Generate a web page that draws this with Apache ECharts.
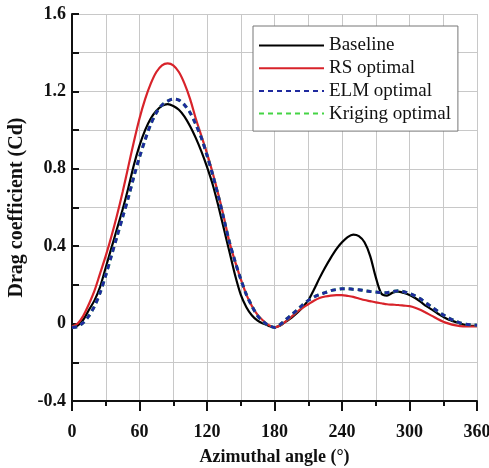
<!DOCTYPE html>
<html>
<head>
<meta charset="utf-8">
<script src="https://cdn.jsdelivr.net/npm/echarts@6/dist/echarts.min.js"></script>
<style>
  html, body { margin: 0; padding: 0; background: #fff; }
  #chart { width: 489px; height: 468px; }
</style>
</head>
<body>
<div id="chart"></div>
<script>
// azimuthal angle (deg), every 5 degrees from 0 to 360
const angles = [
  0, 5, 10, 15, 20, 25, 30, 35, 40, 45, 50, 55, 60, 65, 70, 75, 80, 85, 90,
  95, 100, 105, 110, 115, 120, 125, 130, 135, 140, 145, 150, 155, 160, 165, 170, 175, 180,
  185, 190, 195, 200, 205, 210, 215, 220, 225, 230, 235, 240, 245, 250, 255, 260, 265, 270,
  275, 280, 285, 290, 295, 300, 305, 310, 315, 320, 325, 330, 335, 340, 345, 350, 355, 360];

// drag coefficient
const baseline = [
  -0.02, -0.01, 0.02, 0.07, 0.12, 0.19, 0.29, 0.39, 0.49, 0.59, 0.7, 0.82, 0.92, 1.0, 1.06, 1.1, 1.125, 1.134, 1.125,
  1.105, 1.07, 1.02, 0.96, 0.89, 0.81, 0.72, 0.61, 0.49, 0.37, 0.25, 0.15, 0.085, 0.042, 0.015, 0.0, -0.012, -0.02,
  -0.01, 0.01, 0.03, 0.055, 0.085, 0.12, 0.175, 0.235, 0.29, 0.34, 0.385, 0.42, 0.447, 0.46, 0.452, 0.42, 0.35, 0.24,
  0.155, 0.145, 0.16, 0.165, 0.158, 0.148, 0.132, 0.112, 0.09, 0.072, 0.052, 0.035, 0.02, 0.01, 0.0, -0.008, -0.012, -0.012];

const rsOptimal = [
  -0.015, 0.0, 0.04, 0.1, 0.17, 0.26, 0.35, 0.45, 0.56, 0.68, 0.81, 0.94, 1.06, 1.16, 1.24, 1.3, 1.335, 1.345, 1.335,
  1.3, 1.24, 1.16, 1.06, 0.97, 0.88, 0.78, 0.67, 0.55, 0.42, 0.32, 0.23, 0.15, 0.09, 0.045, 0.015, -0.008, -0.02,
  -0.01, 0.012, 0.035, 0.06, 0.082, 0.1, 0.118, 0.132, 0.14, 0.145, 0.147, 0.147, 0.143, 0.138, 0.13, 0.122, 0.116, 0.11,
  0.105, 0.1, 0.098, 0.096, 0.093, 0.09, 0.082, 0.07, 0.055, 0.04, 0.024, 0.01, 0.0, -0.008, -0.013, -0.015, -0.015, -0.014];

const elmOptimal = [
  -0.02, -0.015, 0.005, 0.04, 0.09, 0.16, 0.25, 0.35, 0.45, 0.55, 0.65, 0.76, 0.86, 0.95, 1.03, 1.09, 1.13, 1.15, 1.16,
  1.155, 1.13, 1.09, 1.03, 0.96, 0.87, 0.77, 0.66, 0.54, 0.42, 0.32, 0.23, 0.15, 0.09, 0.04, 0.01, -0.01, -0.02,
  -0.005, 0.02, 0.045, 0.07, 0.097, 0.12, 0.137, 0.15, 0.16, 0.17, 0.176, 0.18, 0.18, 0.177, 0.175, 0.17, 0.166, 0.163,
  0.16, 0.16, 0.165, 0.17, 0.165, 0.156, 0.143, 0.127, 0.105, 0.085, 0.064, 0.045, 0.028, 0.015, 0.004, -0.003, -0.006, -0.008];

const krigingOptimal = [
  -0.02, -0.015, 0.005, 0.04, 0.09, 0.16, 0.25, 0.35, 0.45, 0.55, 0.65, 0.76, 0.86, 0.95, 1.03, 1.09, 1.13, 1.15, 1.16,
  1.155, 1.13, 1.09, 1.03, 0.96, 0.87, 0.77, 0.66, 0.54, 0.42, 0.32, 0.23, 0.15, 0.09, 0.04, 0.01, -0.01, -0.02,
  -0.005, 0.02, 0.045, 0.07, 0.097, 0.12, 0.137, 0.15, 0.16, 0.17, 0.176, 0.18, 0.18, 0.177, 0.175, 0.17, 0.166, 0.163,
  0.16, 0.16, 0.165, 0.17, 0.165, 0.156, 0.143, 0.127, 0.105, 0.085, 0.064, 0.045, 0.028, 0.015, 0.004, -0.003, -0.006, -0.008];

const serif = "'Liberation Serif', 'Times New Roman', serif";

function pairs(ys) {
  return angles.map((a, i) => [a, ys[i]]);
}

let chartDom = document.getElementById('chart');
let myChart = echarts.init(chartDom);
let gridLine = { show: true, lineStyle: { color: '#c8c8c8', width: 1 } };

let option = {
  backgroundColor: '#fff',
  animation: false,
  grid: { left: 72, right: 12, top: 14, bottom: 67, outerBoundsMode: 'none' },
  legend: {
    orient: 'vertical',
    left: 253,
    top: 26,
    padding: [10, 7, 8, 5],
    itemWidth: 65,
    itemHeight: 14,
    itemGap: 3.7,
    backgroundColor: '#fff',
    borderColor: '#777',
    borderWidth: 1,
    itemStyle: { opacity: 0 },
    data: ['Baseline', 'RS optimal', 'ELM optimal', 'Kriging optimal'],
    textStyle: { fontFamily: serif, fontSize: 19, color: '#111', lineHeight: 19 }
  },
  xAxis: {
    type: 'value',
    min: 0,
    max: 360,
    interval: 60,
    name: 'Azimuthal angle (°)',
    nameLocation: 'middle',
    nameGap: 47,
    nameTextStyle: { fontFamily: serif, fontSize: 18, fontWeight: 'bold', color: '#111' },
    axisLine: { onZero: false, lineStyle: { color: '#111', width: 2 } },
    axisTick: { show: true, inside: false, length: 10, lineStyle: { color: '#111', width: 2 } },
    minorTick: { show: true, splitNumber: 2, length: 5, lineStyle: { color: '#111', width: 2 } },
    axisLabel: { margin: 22, fontFamily: serif, fontSize: 18, fontWeight: 'bold', color: '#111' },
    splitLine: gridLine,
    minorSplitLine: gridLine
  },
  yAxis: {
    type: 'value',
    min: -0.4,
    max: 1.6,
    interval: 0.4,
    name: 'Drag coefficient (Cd)',
    nameLocation: 'middle',
    nameGap: 44,
    nameTextStyle: { fontFamily: serif, fontSize: 20, fontWeight: 'bold', color: '#111' },
    axisLine: { show: true, onZero: false, lineStyle: { color: '#111', width: 2 } },
    axisTick: { show: true, inside: true, length: 7, lineStyle: { color: '#111', width: 2 } },
    minorTick: { show: true, splitNumber: 2, length: 7, lineStyle: { color: '#111', width: 2 } },
    axisLabel: { margin: 6, fontFamily: serif, fontSize: 18, fontWeight: 'bold', color: '#111' },
    splitLine: gridLine,
    minorSplitLine: gridLine
  },
  series: [
    {
      name: 'Baseline', type: 'line', data: pairs(baseline), smooth: 0.3, symbol: 'none',
      lineStyle: { color: '#000', width: 2.2 }, itemStyle: { color: '#000' }
    },
    {
      name: 'RS optimal', type: 'line', data: pairs(rsOptimal), smooth: 0.3, symbol: 'none',
      lineStyle: { color: '#d8232a', width: 2.2 }, itemStyle: { color: '#d8232a' }
    },
    {
      name: 'Kriging optimal', type: 'line', data: pairs(krigingOptimal), smooth: 0.3, symbol: 'none',
      lineStyle: { color: '#45d445', width: 3, type: [5, 4] }, itemStyle: { color: '#45d445' }
    },
    {
      name: 'ELM optimal', type: 'line', data: pairs(elmOptimal), smooth: 0.3, symbol: 'none',
      lineStyle: { color: '#1f2a9e', width: 3, type: [5, 4] }, itemStyle: { color: '#1f2a9e' }
    }
  ]
};
option && myChart.setOption(option);
</script>
</body>
</html>
